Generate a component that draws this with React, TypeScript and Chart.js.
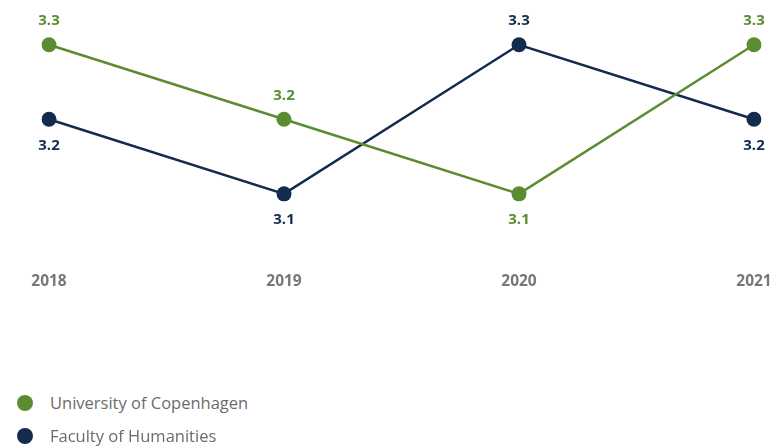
import React, { useEffect, useRef } from "react";
import { Chart, registerables } from "chart.js";

Chart.register(...registerables);

const years = ["2018", "2019", "2020", "2021"];
const ucphValues = [3.3, 3.2, 3.1, 3.3];
const humValues = [3.2, 3.1, 3.3, 3.2];
const seriesNames = ["University of Copenhagen", "Faculty of Humanities"];
const GREEN = "#5b8c31";
const NAVY = "#132c4e";
const FONT = "'Open Sans', 'Noto Sans', sans-serif";

const labelPlugin = {
  id: "pointLabels",
  afterDatasetsDraw(chart: any) {
    const ctx = chart.ctx;
    const n = chart.data.labels.length;
    ctx.save();
    ctx.font = `bold 15px ${FONT}`;
    ctx.textAlign = "center";
    ctx.textBaseline = "middle";
    for (let i = 0; i < n; i++) {
      const vals = chart.data.datasets.map((d: any) => d.data[i]);
      const maxV = Math.max(...vals);
      chart.data.datasets.forEach((ds: any, di: number) => {
        const meta = chart.getDatasetMeta(di);
        const pt = meta.data[i];
        const v = ds.data[i];
        const above = v === maxV;
        ctx.fillStyle = ds.borderColor;
        ctx.fillText(v.toFixed(1), pt.x, above ? pt.y - 24 : pt.y + 26);
      });
    }
    ctx.restore();
  },
};

export default function App() {
  const ref = useRef<HTMLCanvasElement>(null);
  useEffect(() => {
    if (!ref.current) return;
    const chart = new Chart(ref.current, {
      type: "line",
      data: {
        labels: years,
        datasets: [
          {
            label: seriesNames[0],
            data: ucphValues,
            borderColor: GREEN,
            backgroundColor: GREEN,
            borderWidth: 2.5,
            pointRadius: 7.5,
            pointHoverRadius: 7.5,
            pointBorderWidth: 0,
            tension: 0,
          },
          {
            label: seriesNames[1],
            data: humValues,
            borderColor: NAVY,
            backgroundColor: NAVY,
            borderWidth: 2.5,
            pointRadius: 7.5,
            pointHoverRadius: 7.5,
            pointBorderWidth: 0,
            tension: 0,
          },
        ],
      },
      options: {
        animation: false,
        responsive: true,
        maintainAspectRatio: false,
        layout: { padding: { left: 49, right: 19, top: 4.5, bottom: 0 } },
        plugins: { legend: { display: false }, tooltip: { enabled: false } },
        scales: {
          x: {
            offset: false,
            grid: { display: false, drawTicks: false },
            border: { display: false },
            afterFit: (scale: any) => {
              scale.paddingLeft = 0;
              scale.paddingRight = 0;
            },
            ticks: {
              color: "#777777",
              font: { family: FONT, size: 15.5, weight: "bold" },
              padding: 4,
              maxRotation: 0,
            },
          },
          y: { display: false, min: 3.0, max: 3.35 },
        },
      },
      plugins: [labelPlugin],
    });
    return () => chart.destroy();
  }, []);

  const legendItem = (name: string, color: string, centerY: number) => (
    <div style={{ position: "absolute", left: 0, top: centerY - 12, height: 24, width: 400 }}>
      <span style={{ position: "absolute", left: 17, top: 4, width: 16, height: 16, borderRadius: "50%", background: color }} />
      <span style={{ position: "absolute", left: 50, top: 0, whiteSpace: "nowrap", fontFamily: FONT, fontSize: 16.5, color: "#6b6b6b", lineHeight: "24px" }}>{name}</span>
    </div>
  );

  return (
    <div style={{ position: "fixed", left: 0, top: 0, width: 773, height: 446, background: "#ffffff" }}>
      <div style={{ position: "absolute", left: 0, top: 0, width: 773, height: 295 }}>
        <canvas ref={ref} />
      </div>
      {legendItem(seriesNames[0], GREEN, 403)}
      {legendItem(seriesNames[1], NAVY, 436)}
    </div>
  );
}
